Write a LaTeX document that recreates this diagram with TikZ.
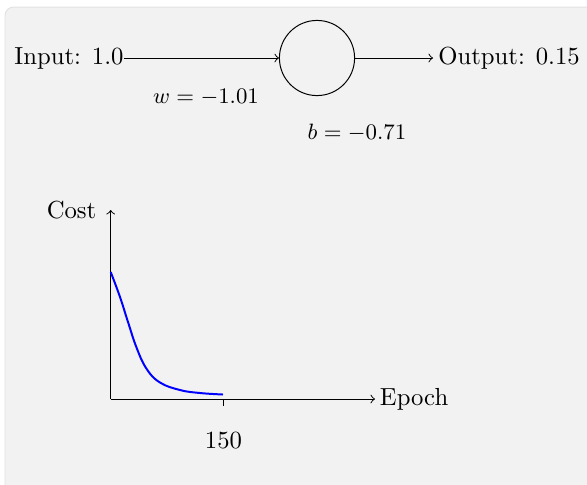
\documentclass[tikz,border=0pt]{standalone}
\definecolor{bgfill}{HTML}{F2F2F2}
\definecolor{bgline}{HTML}{E2E2E2}
\begin{document}
\begin{tikzpicture}[x=0.01423cm,y=-0.01423cm,
  neuronbox/.style={draw, circle, minimum size=1.07cm, inner sep=0pt},
  smalllbl/.style={font=\small},
  conn/.style={->},
  costcurve/.style={blue, thick, line join=round}]
\clip (0,0) rectangle (587,484);
\fill[bgfill, draw=bgline, rounded corners=3.5pt] (5,7) rectangle (640,540);
% network
\node[neuronbox] (neuron) at (317,58) {};
\node[anchor=east, inner xsep=0pt] (input) at (124,58) {Input: 1.0};
\node[anchor=west, inner xsep=2pt] (output) at (433,58) {Output: 0.15};
\draw[conn] (input.east) -- (neuron.west);
\draw[conn] (neuron.east) -- (output.west);
\node[smalllbl] (wlab) at (206,97) {$w = -1.01$};
\node[smalllbl] (blab) at (357,132.5) {$b = -0.71$};
% plot
\coordinate (origin) at (110.7,399);
\coordinate (ytip) at (110.7,210);
\coordinate (tick) at (223.7,399);
\node[anchor=east] (cost) at (105,210) {Cost};
\node[anchor=west, inner xsep=1.8pt] (epoch) at (375,399) {Epoch};
\draw[conn] (origin) -- (ytip);
\draw[conn] (origin) -- (epoch.west);
\draw (tick) -- ++(0,7) coordinate (tickend);
\node (ticklab) at (223.5,440.5) {150};
\draw[costcurve] plot[smooth, tension=0.7] coordinates {
  (110.7,272) (120,297) (128,322) (136.7,348) (146.7,369) (160,382.5)
  (180,390) (200,393) (223,394.5)};
\end{tikzpicture}
\end{document}
